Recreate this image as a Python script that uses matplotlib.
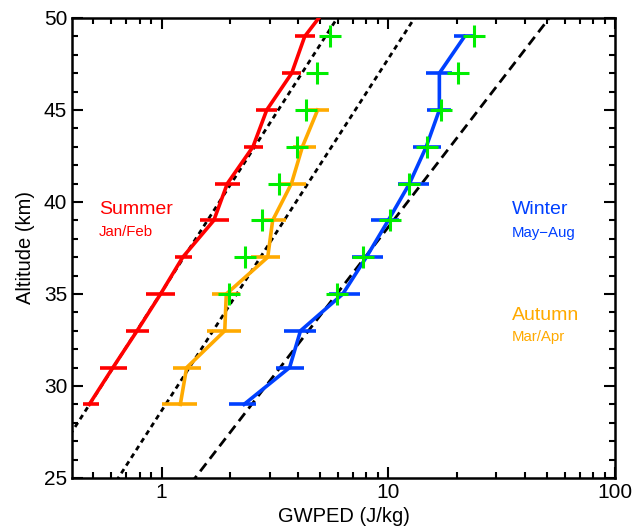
import numpy as np
import matplotlib
matplotlib.use("Agg")
import matplotlib.pyplot as plt
from matplotlib.ticker import FixedLocator, NullFormatter, FuncFormatter

plt.rcParams['font.family'] = ['Liberation Sans', 'DejaVu Sans']

# Summer (Jan/Feb)
alt_summer = [29, 31, 33, 35, 37, 39, 41, 43, 45, 47, 49, 51]
e_summer = [0.48, 0.61, 0.78, 0.99, 1.24, 1.70, 1.95, 2.53, 2.91, 3.75, 4.28, 5.7]
lo_summer = [0.45, 0.535, 0.70, 0.853, 1.145, 1.475, 1.72, 2.31, 2.60, 3.41, 3.87, 5.2]
hi_summer = [0.53, 0.703, 0.879, 1.145, 1.356, 1.98, 2.21, 2.79, 3.24, 4.14, 4.73, 6.2]

# Autumn (Mar/Apr)
alt_autumn = [29, 31, 33, 35, 37, 39, 41, 43, 45]
e_autumn = [1.21, 1.29, 1.90, 1.93, 2.94, 3.09, 3.74, 4.18, 4.88]
lo_autumn = [1.0, 1.12, 1.58, 1.67, 2.49, 2.79, 3.38, 3.79, 4.41]
hi_autumn = [1.44, 1.49, 2.23, 2.21, 3.34, 3.53, 4.32, 4.82, 5.46]

# Winter (May-Aug)
alt_winter = [29, 31, 33, 35, 37, 39, 41, 43, 45, 47, 49]
e_winter = [2.31, 3.67, 4.10, 6.3, 8.0, 10.0, 12.4, 14.7, 16.8, 16.8, 21.7]
lo_winter = [1.98, 3.19, 3.46, 5.46, 6.94, 8.4, 11.0, 12.9, 14.8, 14.7, 19.4]
hi_winter = [2.60, 4.24, 4.82, 7.48, 9.47, 11.2, 15.1, 17.1, 19.0, 19.1, 24.0]

# green crosses
alt_cross = [35, 37, 39, 41, 43, 45, 47, 49]
cross_right = [5.94, 7.73, 10.2, 12.3, 14.8, 17.0, 20.3, 24.0]
cross_left = [1.99, 2.33, 2.77, 3.30, 3.97, 4.32, 4.87, 5.51]

# reference exponential lines: (value at 25 km, km per decade, dash pattern)
ref_lines = [(0.298, 19.22, (1.8, 1.5)), (0.644, 19.13, (1.8, 1.5)), (1.405, 16.0, (3.6, 2.1))]

red = '#ff0000'
orange = '#ffaa00'
blue = '#0040ff'
green = '#00ee00'

fig = plt.figure(figsize=(6.32, 5.31), dpi=100)
ax = fig.add_axes([72 / 632, 53 / 531, 543 / 632, 460 / 531])

z = np.linspace(24, 51, 50)
for e25, kmdec, dash in ref_lines:
    ax.plot(e25 * 10 ** ((z - 25) / kmdec), z, color='black', lw=2.0, dashes=dash, zorder=2)


def profile(alt, e, lo, hi, color):
    e = np.array(e)
    xerr = [e - np.array(lo), np.array(hi) - e]
    ax.errorbar(e, alt, xerr=xerr, fmt='none', ecolor=color, elinewidth=2.6, capsize=0, zorder=3)
    ax.plot(e, alt, color=color, lw=2.6, zorder=3)


profile(alt_summer, e_summer, lo_summer, hi_summer, red)
profile(alt_autumn, e_autumn, lo_autumn, hi_autumn, orange)
profile(alt_winter, e_winter, lo_winter, hi_winter, blue)

ax.plot(cross_right, alt_cross, ls='none', marker='+', ms=16, mew=2.2, color=green, zorder=4)
ax.plot(cross_left, alt_cross, ls='none', marker='+', ms=16, mew=2.2, color=green, zorder=4)

ax.set_xscale('log')
ax.set_xlim(0.4027, 100)
ax.set_ylim(25, 50)
ax.xaxis.set_major_locator(FixedLocator([1, 10, 100]))
ax.xaxis.set_minor_locator(FixedLocator([k * 10.0 ** d for d in (-1, 0, 1) for k in range(2, 10)]))
ax.xaxis.set_major_formatter(FuncFormatter(lambda v, p: '%g' % v))
ax.xaxis.set_minor_formatter(NullFormatter())
ax.set_yticks([25, 30, 35, 40, 45, 50])
ax.set_yticks(range(25, 51), minor=True)
ax.tick_params(which='both', direction='in', top=True, right=True, labelsize=15, width=1.5)
ax.tick_params(which='major', length=8)
ax.tick_params(which='minor', length=4)
for s in ax.spines.values():
    s.set_linewidth(1.8)

ax.set_xlabel('GWPED (J/kg)', fontsize=14.5, labelpad=4)
ax.set_ylabel('Altitude (km)', fontsize=14.5, labelpad=6)

ax.text(0.050, 0.583, 'Summer', color=red, fontsize=14, transform=ax.transAxes, va='center')
ax.text(0.050, 0.535, 'Jan/Feb', color=red, fontsize=10.8, transform=ax.transAxes, va='center')
ax.text(0.810, 0.583, 'Winter', color=blue, fontsize=14, transform=ax.transAxes, va='center')
ax.text(0.810, 0.533, 'May\u2212Aug', color=blue, fontsize=10.8, transform=ax.transAxes, va='center')
ax.text(0.810, 0.354, 'Autumn', color=orange, fontsize=14, transform=ax.transAxes, va='center')
ax.text(0.810, 0.307, 'Mar/Apr', color=orange, fontsize=10.8, transform=ax.transAxes, va='center')

fig.savefig('out.png', dpi=100)
